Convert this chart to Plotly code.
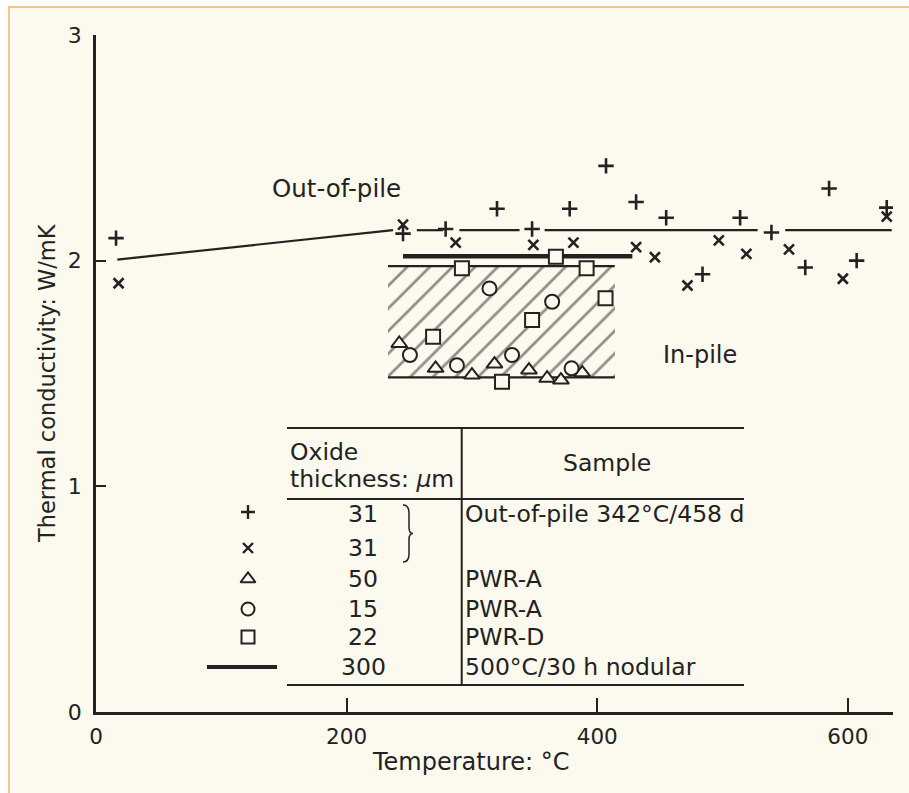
import plotly.graph_objects as go

# ---------------- data ----------------
plus_T = [16, 245, 279, 320, 348, 378, 407, 431, 455, 484, 514, 539, 566, 585, 607, 631]
plus_k = [2.10, 2.12, 2.14, 2.23, 2.14, 2.23, 2.42, 2.26, 2.19, 1.94, 2.19, 2.125, 1.97, 2.32, 2.00, 2.235]

cross_T = [18, 245, 287, 349, 381, 431, 446, 472, 497, 519, 553, 596, 631]
cross_k = [1.90, 2.16, 2.08, 2.07, 2.08, 2.06, 2.015, 1.89, 2.09, 2.03, 2.05, 1.92, 2.195]

tri_T = [242, 271, 300, 318, 345.5, 360, 371, 388]
tri_k = [1.633, 1.523, 1.493, 1.542, 1.515, 1.479, 1.471, 1.503]

circ_T = [250.5, 288, 314, 332, 364, 379.5]
circ_k = [1.582, 1.537, 1.877, 1.582, 1.818, 1.523]

sq_T = [269, 292, 324, 348, 367, 391.5, 406.6]
sq_k = [1.663, 1.966, 1.463, 1.737, 2.017, 1.966, 1.833]

outpile_line_T = [17, 237, None, 256, 277, None, 290, 338, None, 358, 528, None, 550, 635]
outpile_line_k = [2.005, 2.135, None, 2.135, 2.135, None, 2.135, 2.135, None, 2.135, 2.135, None, 2.135, 2.135]

nodular_T = [245, 428]
nodular_k = [2.02, 2.02]

inpile_T = [233, 414]
inpile_k = [1.483, 1.976]

legend_thickness = ["31", "31", "50", "15", "22", "300"]
legend_sample = ["Out-of-pile 342°C/458 d", "", "PWR-A", "PWR-A", "PWR-D", "500°C/30 h nodular"]

x_ticks = [0, 200, 400, 600]
y_ticks = [0, 1, 2, 3]

# ---------------- geometry / style ----------------
W, H = 909, 793
L, R, TOP, B = 96, 893, 35, 712
XMAX, YMAX = 636, 3

def px2x(px):
    return (px - L) / (R - L) * XMAX

def py2y(py):
    return (B - py) / (B - TOP) * YMAX

def pxp(px):
    return (px - L) / (R - L)

def pyp(py):
    return (B - py) / (B - TOP)

INK = "#222222"
CREAM = "#FCF9EE"
FONT = "DejaVu Sans, Liberation Sans, Arial, sans-serif"
TS = 23.5

fig = go.Figure()

# in-pile hatched band
fig.add_trace(go.Bar(
    x=[(inpile_T[0] + inpile_T[1]) / 2], y=[inpile_k[1] - inpile_k[0]], base=[inpile_k[0]],
    width=[inpile_T[1] - inpile_T[0]],
    marker=dict(color=CREAM, line=dict(width=0),
                pattern=dict(shape="/", fgcolor=INK, bgcolor=CREAM, size=16, solidity=0.17)),
    showlegend=False, hoverinfo="skip"))
for kk in inpile_k:
    fig.add_trace(go.Scatter(x=inpile_T, y=[kk, kk], mode="lines",
                             line=dict(color=INK, width=2.2), showlegend=False, hoverinfo="skip"))

# out-of-pile line
fig.add_trace(go.Scatter(x=outpile_line_T, y=outpile_line_k, mode="lines",
                         line=dict(color=INK, width=2.2), connectgaps=False, showlegend=False))
# nodular thick line
fig.add_trace(go.Scatter(x=nodular_T, y=nodular_k, mode="lines",
                         line=dict(color=INK, width=4.5), showlegend=False))

open_marker = lambda sym: dict(symbol=sym, size=14, color=CREAM, line=dict(color=INK, width=2))

fig.add_trace(go.Scatter(x=tri_T, y=tri_k, mode="markers", marker=open_marker("triangle-up"), showlegend=False))
fig.add_trace(go.Scatter(x=circ_T, y=circ_k, mode="markers", marker=open_marker("circle"), showlegend=False))
fig.add_trace(go.Scatter(x=sq_T, y=sq_k, mode="markers", marker=open_marker("square"), showlegend=False))
fig.add_trace(go.Scatter(x=plus_T, y=plus_k, mode="markers",
                         marker=dict(symbol="cross-thin", size=11, line=dict(color=INK, width=2.6)), showlegend=False))
fig.add_trace(go.Scatter(x=cross_T, y=cross_k, mode="markers",
                         marker=dict(symbol="x-thin", size=10, line=dict(color=INK, width=2.6)), showlegend=False))

# ---------------- legend table ----------------
row_py = [514, 548, 579, 609, 637, 667]
sym_x = px2x(248)
leg_syms = ["cross-thin", "x-thin", "triangle-up", "circle", "square"]
for i, s in enumerate(leg_syms):
    if s in ("cross-thin", "x-thin"):
        mk = dict(symbol=s, size=10, line=dict(color=INK, width=2.4))
    else:
        mk = dict(symbol=s, size=13, color=CREAM, line=dict(color=INK, width=2))
    fig.add_trace(go.Scatter(x=[sym_x], y=[py2y(row_py[i] - (2 if i == 0 else 0))], mode="markers",
                             marker=mk, showlegend=False, hoverinfo="skip"))
fig.add_trace(go.Scatter(x=[px2x(207), px2x(277)], y=[py2y(row_py[5])] * 2, mode="lines",
                         line=dict(color=INK, width=4), showlegend=False, hoverinfo="skip"))

shapes = []
# frame
shapes.append(dict(type="rect", xref="paper", yref="paper", layer="below",
                   x0=pxp(9), x1=pxp(W + 5), y0=pyp(H + 5), y1=pyp(7),
                   fillcolor=CREAM, line=dict(color="#EFC68E", width=2)))
for py in (428, 499, 685):
    shapes.append(dict(type="line", xref="x", yref="y", x0=px2x(287), x1=px2x(744),
                       y0=py2y(py), y1=py2y(py), line=dict(color=INK, width=2.2)))
shapes.append(dict(type="line", xref="x", yref="y", x0=px2x(461.7), x1=px2x(461.7),
                   y0=py2y(428), y1=py2y(685), line=dict(color=INK, width=2)))
# brace
bx, by0, by1 = 403, 505, 562
bm = (by0 + by1) / 2
def P(px, py):
    return f"{px2x(px):.3f},{py2y(py):.4f}"
path = (f"M {P(bx, by0)} Q {P(bx + 6, by0)} {P(bx + 6, by0 + 8)} L {P(bx + 6, bm - 6)} "
        f"Q {P(bx + 6, bm)} {P(bx + 10, bm)} Q {P(bx + 6, bm)} {P(bx + 6, bm + 6)} "
        f"L {P(bx + 6, by1 - 8)} Q {P(bx + 6, by1)} {P(bx, by1)}")
shapes.append(dict(type="path", xref="x", yref="y", path=path, line=dict(color=INK, width=1.5)))

ann = []
def A(x, y, text, size, xanchor="center", xref="x", yref="y", angle=0):
    ann.append(dict(x=x, y=y, xref=xref, yref=yref, text=text, showarrow=False,
                    xanchor=xanchor, yanchor="middle", textangle=angle,
                    font=dict(family=FONT, size=size, color=INK)))

A(px2x(336), py2y(188), "Out-of-pile", 24.5)
A(px2x(700), py2y(355), "In-pile", 24)
A(px2x(288), py2y(452), "Oxide", TS, "left")
A(px2x(288), py2y(479), "thickness: <i>μ</i>m", TS, "left")
A(px2x(607), py2y(463), "Sample", TS)
for i in range(6):
    A(px2x(363), py2y(row_py[i]), legend_thickness[i], TS)
    if legend_sample[i]:
        A(px2x(463), py2y(row_py[i]), legend_sample[i], TS, "left")

A(pxp(471), pyp(762), "Temperature: °C", 24, xref="paper", yref="paper")
A(pxp(47), pyp(383), "Thermal conductivity: W/mK", 22.5, xref="paper", yref="paper", angle=-90)

fig.update_layout(
    width=W, height=H,
    margin=dict(l=L, r=W - R, t=TOP, b=H - B, pad=0),
    paper_bgcolor="white", plot_bgcolor="rgba(0,0,0,0)",
    shapes=shapes, annotations=ann, showlegend=False, bargap=0,
    font=dict(family=FONT, color=INK),
)
fig.update_xaxes(range=[0, XMAX], tickvals=x_ticks, ticktext=[str(v) for v in x_ticks],
                 showgrid=False, zeroline=False, showline=True, linecolor=INK, linewidth=2.5,
                 ticks="inside", ticklen=14, tickwidth=2, tickcolor=INK,
                 tickfont=dict(family=FONT, size=21.5, color=INK), ticklabelstandoff=3)
fig.update_yaxes(range=[0, YMAX], tickvals=y_ticks, ticktext=[str(v) for v in y_ticks],
                 showgrid=False, zeroline=False, showline=True, linecolor=INK, linewidth=2.5,
                 ticks="inside", ticklen=10, tickwidth=2, tickcolor=INK,
                 tickfont=dict(family=FONT, size=22, color=INK), ticklabelstandoff=7)

fig.write_html("out.html")
